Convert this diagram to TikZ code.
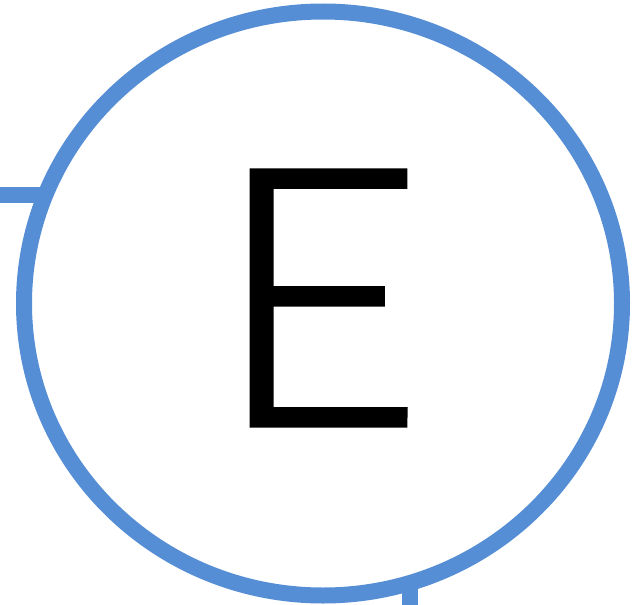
\documentclass[tikz,border=0pt]{standalone}
\usepackage{fontspec}
\setmainfont{Carlito}
\newfontfamily\letterfont{Lato Light}[FakeBold=1.5]
\usetikzlibrary{shapes.geometric}
\definecolor{ringblue}{RGB}{85,142,213}
\begin{document}
\begin{tikzpicture}[x=1pt,y=1pt,
  ring/.style={draw=ringblue,line width=16pt,ellipse,minimum width=598pt,minimum height=584pt,inner sep=0pt},
  wire/.style={draw=ringblue,line width=16pt}]
\useasboundingbox (0,0) rectangle (635,-605);
\coordinate (Lin) at (0,-195);
\coordinate (Lend) at (46,-195);
\coordinate (Bout) at (410,-605);
\coordinate (Bend) at (410,-582);
\draw[wire] (Lin) -- (Lend);
\draw[wire] (Bout) -- (Bend);
\node[ring] (c) at (323,-303.5) {};
\node[inner sep=0pt,anchor=center] (e) at (319,-298) {\letterfont\fontsize{359}{359}\selectfont E};
\end{tikzpicture}
\end{document}
